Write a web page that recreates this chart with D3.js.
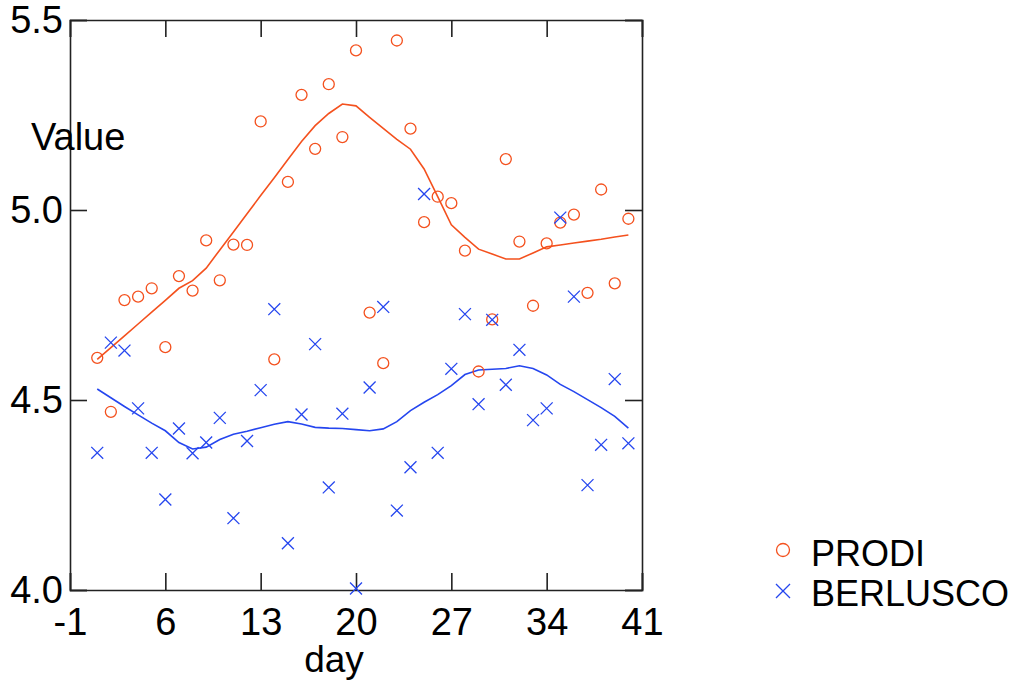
<!DOCTYPE html>
<html>
<head>
<meta charset="utf-8">
<script src="https://cdn.jsdelivr.net/npm/d3@7"></script>
<style>
  body { margin: 0; background: #fff; }
  text { font-family: Arial, "Liberation Sans", sans-serif; fill: #000; }
</style>
</head>
<body>
<div class="svg-container"></div>
<script>
let days = [1,2,3,4,5,6,7,8,9,10,11,12,13,14,15,16,17,18,19,20,21,22,23,24,25,26,27,28,29,30,31,32,33,34,35,36,37,38,39,40];

let prodi = [4.611,4.469,4.763,4.772,4.794,4.639,4.826,4.788,4.920,4.815,
  4.909,4.908,5.233,4.607,5.074,5.303,5.161,5.331,5.192,5.420,
  4.730,4.597,5.446,5.214,4.968,5.035,5.018,4.893,4.575,4.712,
  5.134,4.917,4.748,4.912,4.967,4.988,4.782,5.054,4.807,4.977];

let berlusco = [4.361,4.651,4.630,4.478,4.361,4.238,4.425,4.360,4.388,4.453,
  4.189,4.392,4.526,4.739,4.123,4.462,4.647,4.270,4.464,4.004,
  4.533,4.745,4.209,4.323,5.042,4.361,4.582,4.726,4.489,4.711,
  4.540,4.632,4.447,4.478,4.980,4.772,4.276,4.382,4.555,4.386];

// smoothed curves
let prodiSmooth = [4.607,4.638,4.669,4.700,4.731,4.762,4.794,4.814,4.847,4.895,
  4.942,4.990,5.038,5.085,5.133,5.180,5.222,5.254,5.279,5.274,
  5.244,5.215,5.186,5.160,5.108,5.035,4.961,4.928,4.897,4.884,
  4.871,4.871,4.887,4.903,4.908,4.913,4.918,4.923,4.929,4.934];

let berluscoSmooth = [4.529,4.506,4.483,4.461,4.439,4.419,4.388,4.371,4.376,4.396,
  4.410,4.418,4.427,4.436,4.443,4.437,4.428,4.426,4.425,4.422,
  4.419,4.424,4.443,4.472,4.494,4.514,4.538,4.567,4.579,4.581,
  4.583,4.590,4.583,4.566,4.541,4.522,4.501,4.480,4.457,4.426];

let xTicks = [-1, 6, 13, 20, 27, 34, 41];
let yTicks = [4.0, 4.5, 5.0, 5.5];
let seriesNames = ["PRODI", "BERLUSCO"];

let orange = "#f4511e",
  blue = "#2546ef";

let width = 1024,
  height = 683;
let plotLeft = 70, plotRight = 642, plotTop = 20, plotBottom = 590;
let tickLen = 17;

let svg = d3.select(".svg-container").append("svg")
  .attr("width", width)
  .attr("height", height);

const xScale = d3.scaleLinear().domain([-1, 41]).range([plotLeft, plotRight]);
const yScale = d3.scaleLinear().domain([4.0, 5.5]).range([plotBottom, plotTop]);

//Axes with inward ticks on all four sides
const frame = svg.append("g").attr("class", "frame");

frame.append("g")
  .attr("transform", "translate(0," + plotBottom + ")")
  .call(d3.axisBottom(xScale).tickValues(xTicks).tickSize(-tickLen).tickPadding(18).tickFormat(d => String(d)));

frame.append("g")
  .attr("transform", "translate(0," + plotTop + ")")
  .call(d3.axisTop(xScale).tickValues(xTicks).tickSize(-tickLen).tickFormat(""));

frame.append("g")
  .attr("transform", "translate(" + plotLeft + ",0)")
  .call(d3.axisLeft(yScale).tickValues(yTicks).tickSize(-tickLen).tickPadding(7).tickFormat(d => d.toFixed(1)));

frame.append("g")
  .attr("transform", "translate(" + plotRight + ",0)")
  .call(d3.axisRight(yScale).tickValues(yTicks).tickSize(-tickLen).tickFormat(""));

frame.selectAll(".domain, .tick line")
  .attr("stroke", "#222")
  .attr("stroke-width", 1.6);

frame.selectAll(".tick text")
  .attr("font-size", 38)
  .attr("font-family", "Arial, 'Liberation Sans', sans-serif")
  .attr("fill", "#000");

//Axis titles
svg.append("text")
  .text("day")
  .attr("x", (plotLeft + plotRight) / 2 - 22)
  .attr("y", 672)
  .attr("text-anchor", "middle")
  .attr("font-size", 37);

svg.append("text")
  .text("Value")
  .attr("x", 31)
  .attr("y", 150)
  .attr("font-size", 38);

//Smoothed lines
const line = d3.line()
  .x((d, i) => xScale(days[i]))
  .y(d => yScale(d));

svg.append("path")
  .datum(prodiSmooth)
  .attr("d", line)
  .attr("fill", "none")
  .attr("stroke", orange)
  .attr("stroke-width", 1.6);

svg.append("path")
  .datum(berluscoSmooth)
  .attr("d", line)
  .attr("fill", "none")
  .attr("stroke", blue)
  .attr("stroke-width", 1.6);

//Points
const cross = d3.symbol().type(d3.symbolX).size(95);

svg.selectAll(".prodi")
  .data(prodi)
  .enter()
  .append("circle")
  .attr("class", "prodi")
  .attr("cx", (d, i) => xScale(days[i]))
  .attr("cy", d => yScale(d))
  .attr("r", 5.5)
  .attr("fill", "none")
  .attr("stroke", orange)
  .attr("stroke-width", 1.3);

svg.selectAll(".berlusco")
  .data(berlusco)
  .enter()
  .append("path")
  .attr("class", "berlusco")
  .attr("d", cross)
  .attr("transform", (d, i) => "translate(" + xScale(days[i]) + "," + yScale(d) + ")")
  .attr("fill", "none")
  .attr("stroke", blue)
  .attr("stroke-width", 1.3);

//Legend
let legend = svg.append("g").attr("class", "legend");

legend.append("circle")
  .attr("cx", 783)
  .attr("cy", 550)
  .attr("r", 6.5)
  .attr("fill", "none")
  .attr("stroke", orange)
  .attr("stroke-width", 1.3);

legend.append("path")
  .attr("d", d3.symbol().type(d3.symbolX).size(130))
  .attr("transform", "translate(783,591)")
  .attr("fill", "none")
  .attr("stroke", blue)
  .attr("stroke-width", 1.3);

legend.selectAll(".label")
  .data(seriesNames)
  .enter()
  .append("text")
  .attr("class", "label")
  .text(d => d)
  .attr("x", 811)
  .attr("y", (d, i) => 566 + i * 40)
  .attr("font-size", 36);
</script>
</body>
</html>
